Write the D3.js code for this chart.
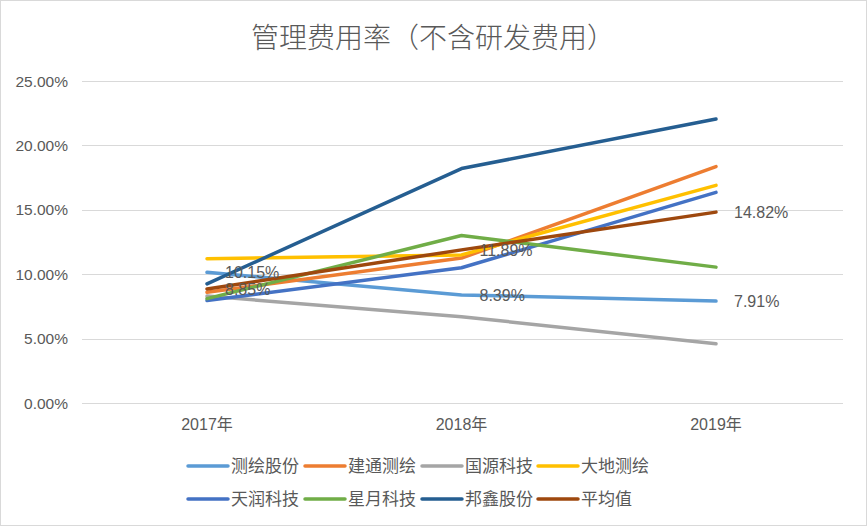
<!DOCTYPE html>
<html>
<head>
<meta charset="utf-8">
<script src="https://cdn.jsdelivr.net/npm/d3@7"></script>
<style>
  body { margin: 0; background: #fff; }
  text { font-family: "Liberation Sans", "Noto Sans CJK SC", sans-serif; fill: #595959; }
</style>
</head>
<body>
<svg id="chart" width="867" height="526"></svg>
<script>
const years = ['2017年', '2018年', '2019年'];
const seriesNames = ['测绘股份', '建通测绘', '国源科技', '大地测绘', '天润科技', '星月科技', '邦鑫股份', '平均值'];
const seriesColors = ['#5B9BD5', '#ED7D31', '#A5A5A5', '#FFC000', '#4472C4', '#70AD47', '#255E91', '#9E480E'];
const ceHui = [10.15, 8.39, 7.91];
const jianTong = [8.6, 11.25, 18.35];
const guoYuan = [8.3, 6.7, 4.6];
const daDi = [11.2, 11.5, 16.9];
const tianRun = [7.95, 10.5, 16.35];
const xingYue = [8.1, 13.0, 10.55];
const bangXin = [9.25, 18.2, 22.05];
const average = [8.85, 11.89, 14.82];
const yTicks = [0, 5, 10, 15, 20, 25];
const labelled = [0, 7]; // series that show data labels

const allValues = [ceHui, jianTong, guoYuan, daDi, tianRun, xingYue, bangXin, average];

const svg = d3.select('#chart');
const width = 867;
const height = 526;

svg.append('rect')
  .attr('x', 0.5).attr('y', 0.5)
  .attr('width', width - 1).attr('height', height - 1)
  .attr('fill', '#fff')
  .attr('stroke', '#D9D9D9');

svg.append('text')
  .attr('x', 433).attr('y', 48)
  .attr('text-anchor', 'middle')
  .attr('font-size', 28)
  .attr('font-weight', 300)
  .text('管理费用率（不含研发费用）');

const x = d3.scalePoint().domain(years).range([207, 716]).padding(0);
const y = d3.scaleLinear().domain([0, 25]).range([403, 81]);

// gridlines
svg.append('g')
  .selectAll('line')
  .data(yTicks)
  .enter()
  .append('line')
  .attr('x1', 82).attr('x2', 843)
  .attr('y1', d => Math.round(y(d)) + 0.5)
  .attr('y2', d => Math.round(y(d)) + 0.5)
  .attr('stroke', '#D9D9D9')
  .attr('stroke-width', 1);

svg.append('g')
  .selectAll('text')
  .data(yTicks)
  .enter()
  .append('text')
  .attr('x', 68)
  .attr('y', d => y(d) + 5.5)
  .attr('text-anchor', 'end')
  .attr('font-size', 15.5)
  .text(d => d.toFixed(2) + '%');

svg.append('g')
  .selectAll('text')
  .data(years)
  .enter()
  .append('text')
  .attr('x', d => x(d))
  .attr('y', 430)
  .attr('text-anchor', 'middle')
  .attr('font-size', 16)
  .text(d => d);

const line = d3.line()
  .x((d, i) => x(years[i]))
  .y(d => y(d));

svg.append('g')
  .selectAll('path')
  .data(allValues)
  .enter()
  .append('path')
  .attr('fill', 'none')
  .attr('stroke', (d, i) => seriesColors[i])
  .attr('stroke-width', 3.5)
  .attr('stroke-linecap', 'round')
  .attr('stroke-linejoin', 'round')
  .attr('d', line);

// data labels
labelled.forEach(s => {
  svg.append('g')
    .selectAll('text')
    .data(allValues[s])
    .enter()
    .append('text')
    .attr('x', (d, i) => x(years[i]) + 18)
    .attr('y', d => y(d) + 6)
    .attr('font-size', 16)
    .text(d => d.toFixed(2) + '%');
});

// legend
const legendX = [188, 305, 422, 538];
const legendY = [466, 499];
const legend = svg.append('g')
  .selectAll('g')
  .data(seriesNames)
  .enter()
  .append('g')
  .attr('transform', (d, i) => `translate(${legendX[i % 4]},${legendY[Math.floor(i / 4)]})`);

legend.append('line')
  .attr('x1', 0).attr('x2', 40)
  .attr('y1', 0).attr('y2', 0)
  .attr('stroke', (d, i) => seriesColors[i])
  .attr('stroke-width', 3.5)
  .attr('stroke-linecap', 'round');

legend.append('text')
  .attr('x', 43)
  .attr('y', 6)
  .attr('font-size', 17)
  .text(d => d);
</script>
</body>
</html>
